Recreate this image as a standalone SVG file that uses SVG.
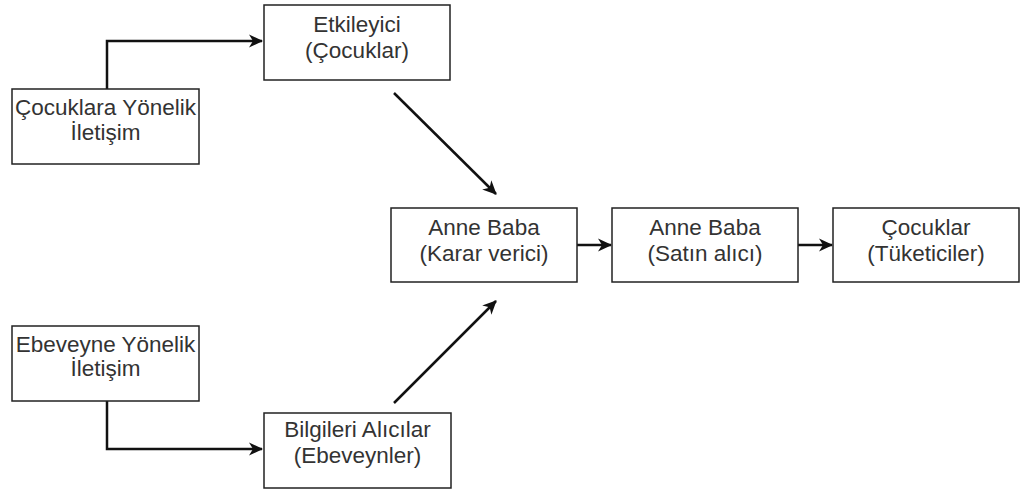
<svg xmlns="http://www.w3.org/2000/svg" width="1021" height="491" viewBox="0 0 1021 491">
<style>
.box{fill:#fff;stroke:#222;stroke-width:1.5}
.t{font-family:"Liberation Sans",Arial,sans-serif;font-size:22.5px;fill:#333;text-anchor:middle}
.c{fill:none;stroke:#111;stroke-width:2.5}
</style>
<defs>
<marker id="ah" markerWidth="16" markerHeight="14" refX="13" refY="7" orient="auto" markerUnits="userSpaceOnUse">
<path d="M0,0.5 L14,7 L0,13.5 L4,7 Z" fill="#111"/>
</marker>
</defs>
<rect width="1021" height="491" fill="#fff"/>
<g id="connectors">
<path class="c" d="M107,89 V41 H262" marker-end="url(#ah)"/>
<path class="c" d="M107,401 V449 H262" marker-end="url(#ah)"/>
<path class="c" d="M394,93 L496,194" marker-end="url(#ah)"/>
<path class="c" d="M394,403 L496,301" marker-end="url(#ah)"/>
<path class="c" d="M577,245 H611" marker-end="url(#ah)"/>
<path class="c" d="M798,245 H832" marker-end="url(#ah)"/>
</g>
<g id="n-etkileyici"><rect class="box" x="264" y="5" width="186" height="75"/><text class="t" x="357" y="32">Etkileyici</text><text class="t" x="357" y="58">(Çocuklar)</text></g>
<g id="n-cocuklara"><rect class="box" x="12" y="89" width="187" height="75"/><text class="t" x="105.5" y="115">Çocuklara Yönelik</text><text class="t" x="105.5" y="140">İletişim</text></g>
<g id="n-ebeveyne"><rect class="box" x="12" y="326" width="187" height="75"/><text class="t" x="105.5" y="352">Ebeveyne Yönelik</text><text class="t" x="105.5" y="376">İletişim</text></g>
<g id="n-bilgileri"><rect class="box" x="264" y="413" width="187" height="75"/><text class="t" x="357.5" y="437">Bilgileri Alıcılar</text><text class="t" x="357.5" y="463">(Ebeveynler)</text></g>
<g id="n-karar"><rect class="box" x="391" y="208" width="186" height="74"/><text class="t" x="484" y="235">Anne Baba</text><text class="t" x="484" y="261">(Karar verici)</text></g>
<g id="n-satin"><rect class="box" x="612" y="208" width="186" height="74"/><text class="t" x="705" y="235">Anne Baba</text><text class="t" x="705" y="261">(Satın alıcı)</text></g>
<g id="n-tuketici"><rect class="box" x="833" y="208" width="186" height="74"/><text class="t" x="926" y="235">Çocuklar</text><text class="t" x="926" y="261">(Tüketiciler)</text></g>
</svg>
